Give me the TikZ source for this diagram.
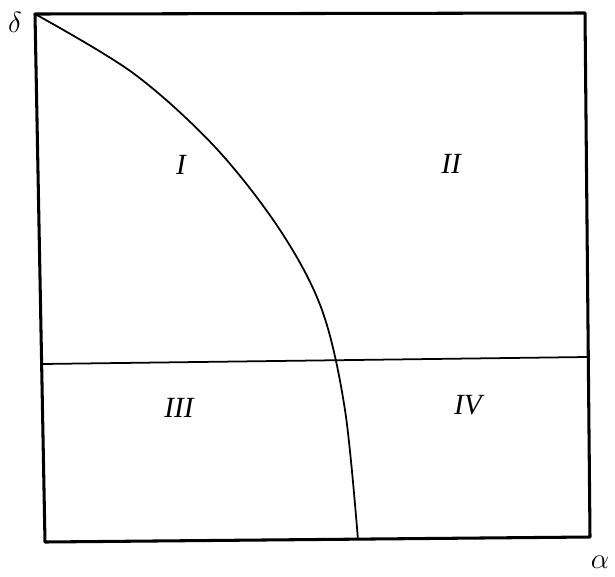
\documentclass[tikz,border=0pt]{standalone}
\usepackage{fontspec}
\setmainfont{Liberation Serif}
\usepackage{amsmath}
\usepackage{tikz}

\begin{document}
\begin{tikzpicture}[x=0.03cm, y=-0.03cm,
  frame/.style={draw, line width=2.6pt, line join=round},
  thin/.style={draw, line width=1.5pt},
  region/.style={font=\fontsize{25}{28}\selectfont\itshape, inner sep=0pt},
  axis/.style={font=\fontsize{24}{28}\selectfont, inner sep=0pt}]
\useasboundingbox (0,0) rectangle (615,576);
% corners of the box
\coordinate (tl) at (35,14);
\coordinate (tr) at (585,13);
\coordinate (br) at (590,537);
\coordinate (bl) at (45,542);
\coordinate (hl) at (42,364);
\coordinate (hr) at (587,357);
\draw[frame] (tl) -- (tr) -- (br) -- (bl) -- cycle;
\draw[thin] (hl) -- (hr);
\draw[thin] plot[smooth, tension=0.55] coordinates {(tl) (133,73) (215,147)
  (280,230) (322,310) (345,410) (358,540)};
\node[region] (rI)   at (181,165) {I};
\node[region] (rII)  at (451,164) {II};
\node[region] (rIII) at (179,408) {III};
\node[region] (rIV)  at (468,405) {IV};
\node[axis] (delta) at (15,22)  {$\delta$};
\node[axis] (alpha) at (600,562) {$\alpha$};
\end{tikzpicture}
\end{document}
